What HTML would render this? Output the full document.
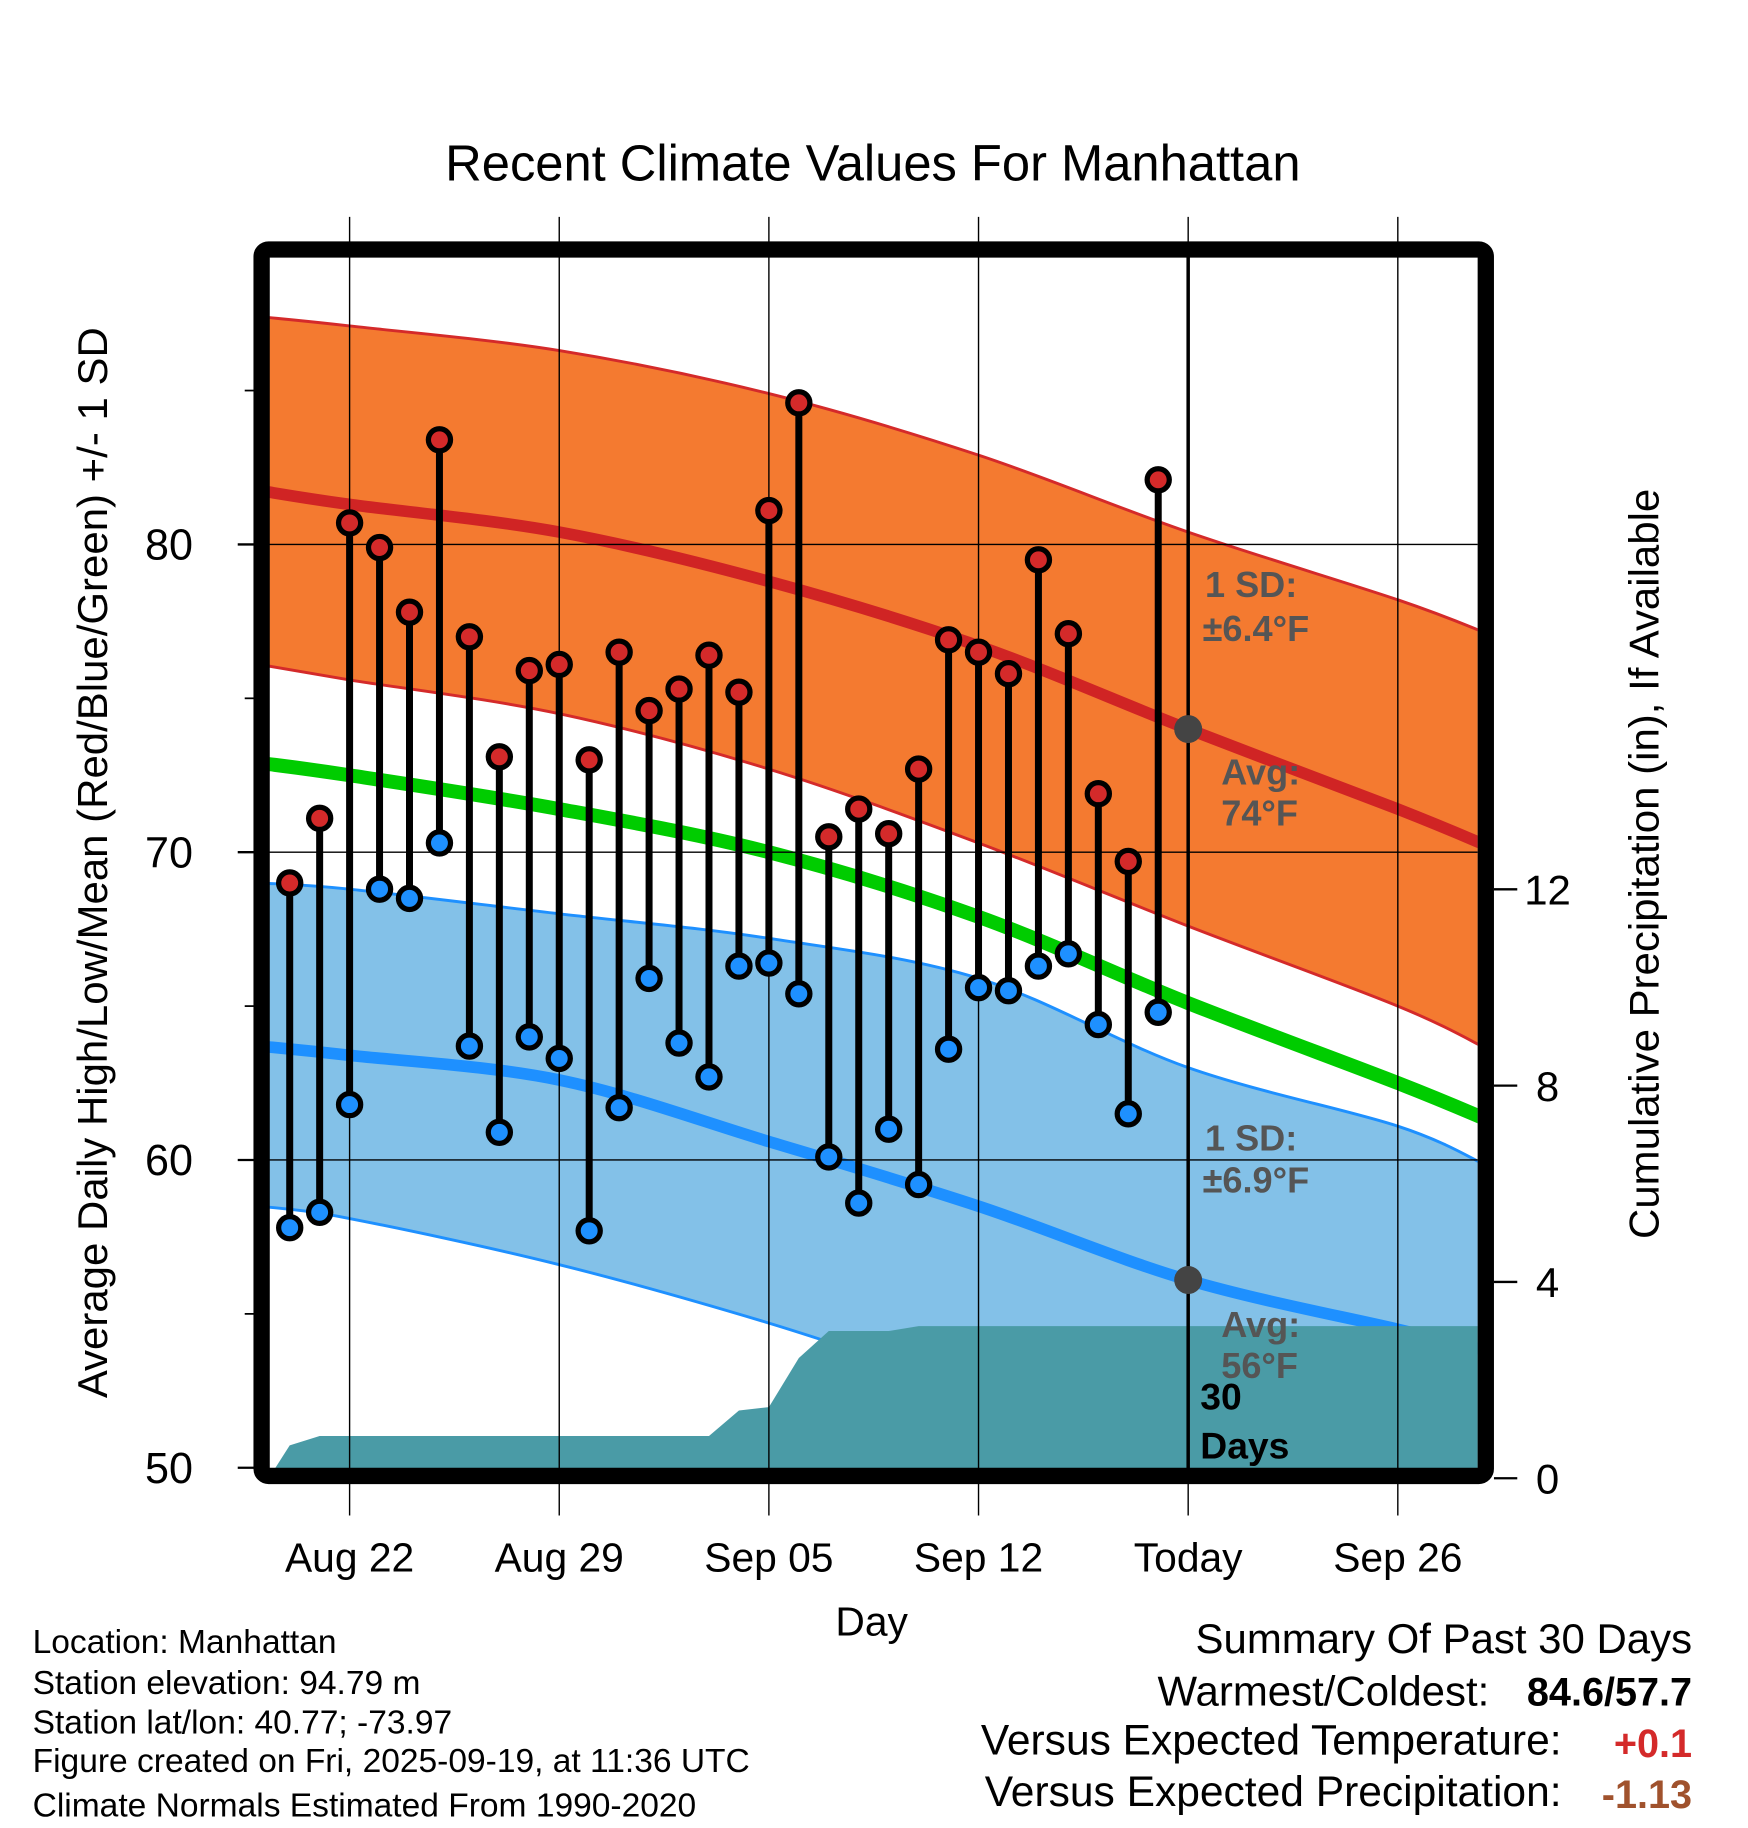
<!DOCTYPE html>
<html><head><meta charset="utf-8"><style>
html,body{margin:0;padding:0;background:#fff}
svg{display:block;font-family:"Liberation Sans",sans-serif}
</style></head><body>
<svg id="chart" width="1748" height="1828" viewBox="0 0 1500 1568" preserveAspectRatio="none" xmlns="http://www.w3.org/2000/svg">
<defs><clipPath id="clip"><rect x="231" y="220" width="1037" height="1040"/></clipPath></defs>
<g id="plot" clip-path="url(#clip)"></g>
<g id="over"></g>
</svg>
<script>
// ---- data ----
const normDays=[-3,0,7,14,21,28,35,38]; // days relative to Aug 22
const highNorm=[81.75,81.3,80.4,78.8,76.7,74.0,71.4,70.2];
const highUpper=[87.4,87.1,86.3,84.9,82.9,80.4,78.2,77.1];
const highLower=[76.1,75.6,74.5,72.7,70.3,67.6,65.0,63.6];
const meanNorm=[72.9,72.5,71.4,70.0,67.9,65.1,62.5,61.3];
const lowNorm=[63.7,63.4,62.6,60.6,58.5,56.1,54.5,53.8];
const lowUpper=[69.0,68.8,68.0,67.2,65.9,63.0,61.1,59.8];
const lowLower=[58.5,58.1,56.6,54.7,52.5,50.5,49.0,48.5];
const obsDays=[-2,-1,0,1,2,3,4,5,6,7,8,9,10,11,12,13,14,15,16,17,18,19,20,21,22,23,24,25,26,27];
const highs=[69.0,71.1,80.7,79.9,77.8,83.4,77.0,73.1,75.9,76.1,73.0,76.5,74.6,75.3,76.4,75.2,81.1,84.6,70.5,71.4,70.6,72.7,76.9,76.5,75.8,79.5,77.1,71.9,69.7,82.1];
const lows=[57.8,58.3,61.8,68.8,68.5,70.3,63.7,60.9,64.0,63.3,57.7,61.7,65.9,63.8,62.7,66.3,66.4,65.4,60.1,58.6,61.0,59.2,63.6,65.6,65.5,66.3,66.7,64.4,61.5,64.8];
const precipDays=[-2.7,-2,-1,0,1,2,3,4,5,6,7,8,9,10,11,12,13,14,15,16,17,18,19,20,21,22,23,24,25,26,27,38];
const precipCum=[0,0.67,0.86,0.86,0.86,0.86,0.86,0.86,0.86,0.86,0.86,0.86,0.86,0.86,0.86,0.86,1.38,1.45,2.45,3.0,3.0,3.0,3.1,3.1,3.1,3.1,3.1,3.1,3.1,3.1,3.1,3.1];
const xTickDays=[0,7,14,21,28,35];
const xTickLabels=["Aug 22","Aug 29","Sep 05","Sep 12","Today","Sep 26"];
const yTicks=[50,60,70,80];
const yMinor=[55,65,75,85];
const pTicks=[0,4,8,12];

// ---- scales ----
const X=d=>300+d*25.7;
const Y=t=>1259-(t-50)*26.4;
const YP=p=>1268-p*42.1;
const NS="http://www.w3.org/2000/svg";
function mk(parent,tag,attrs,text){const e=document.createElementNS(NS,tag);for(const k in attrs)e.setAttribute(k,attrs[k]);if(text!==undefined)e.textContent=text;parent.appendChild(e);return e;}
const plot=document.getElementById('plot'),over=document.getElementById('over');
function smooth(pts,move){
 let s=(move?'M':'L')+pts[0][0].toFixed(1)+','+pts[0][1].toFixed(1);
 for(let i=0;i<pts.length-1;i++){
  const p0=pts[Math.max(0,i-1)],p1=pts[i],p2=pts[i+1],p3=pts[Math.min(pts.length-1,i+2)];
  const c1=[p1[0]+(p2[0]-p0[0])/6,p1[1]+(p2[1]-p0[1])/6];
  const c2=[p2[0]-(p3[0]-p1[0])/6,p2[1]-(p3[1]-p1[1])/6];
  s+='C'+c1[0].toFixed(1)+','+c1[1].toFixed(1)+' '+c2[0].toFixed(1)+','+c2[1].toFixed(1)+' '+p2[0].toFixed(1)+','+p2[1].toFixed(1);
 }
 return s;
}
const pts=(ds,vs)=>ds.map((d,i)=>[X(d),Y(vs[i])]);
const line=(ds,vs)=>smooth(pts(ds,vs),true);
const band=(ds,up,lo)=>smooth(pts(ds,up),true)+smooth(pts(ds,lo).reverse(),false)+'Z';

let e;
e=mk(plot,'path',{d:band(normDays,highUpper,highLower),fill:'#f47a30',stroke:'none'});


e=mk(plot,'path',{d:band(normDays,lowUpper,lowLower),fill:'#83c1e8',stroke:'none'});


[[highUpper,'#d42a2a'],[highLower,'#d42a2a'],[lowUpper,'#1e90ff'],[lowLower,'#1e90ff']].forEach(([v,c])=>{
 const l=mk(plot,'path',{d:line(normDays,v),fill:'none',stroke:c,'stroke-width':2.5});
 
 
});
e=mk(plot,'path',{d:line(normDays,highNorm),fill:'none',stroke:'#d02424','stroke-width':10});


e=mk(plot,'path',{d:line(normDays,meanNorm),fill:'none',stroke:'#00cc00','stroke-width':12});


e=mk(plot,'path',{d:line(normDays,lowNorm),fill:'none',stroke:'#1e90ff','stroke-width':10});


// precip area
let pd='M'+X(precipDays[0])+','+YP(0);
precipDays.forEach((d,i)=>{pd+='L'+X(d).toFixed(1)+','+YP(precipCum[i]).toFixed(1);});
pd+='L'+X(precipDays[precipDays.length-1])+','+YP(0)+'Z';
e=mk(plot,'path',{d:pd,fill:'#4a9ba6',stroke:'none'});


// grid
xTickDays.forEach(d=>{const g=mk(over,'line',{x1:X(d),x2:X(d),y1:186,y2:1300,stroke:'#000','stroke-width':1.2});
 
 });
yTicks.slice(1).forEach(t=>{const g=mk(over,'line',{x1:231,x2:1268,y1:Y(t),y2:Y(t),stroke:'#000','stroke-width':1.2});
 
 });
e=mk(over,'line',{x1:X(28),x2:X(28),y1:220,y2:1260,stroke:'#000','stroke-width':3});


obsDays.forEach((d,i)=>{
 const s=mk(over,'line',{x1:X(d),x2:X(d),y1:Y(highs[i]),y2:Y(lows[i]),stroke:'#000','stroke-width':6});
 
 
});
obsDays.forEach((d,i)=>{
 const h=mk(over,'circle',{cx:X(d),cy:Y(highs[i]),r:9.5,fill:'#d42a2a',stroke:'#000','stroke-width':4.5});
 
 
 const l=mk(over,'circle',{cx:X(d),cy:Y(lows[i]),r:9.5,fill:'#1e90ff',stroke:'#000','stroke-width':4.5});
 
 
});
e=mk(over,'circle',{cx:X(28),cy:Y(highNorm[5]),r:12,fill:'#444'});


e=mk(over,'circle',{cx:X(28),cy:Y(lowNorm[5]),r:12,fill:'#444'});


e=mk(over,'rect',{x:224.5,y:214,width:1050.5,height:1052,rx:6,fill:'none',stroke:'#000','stroke-width':14});


yTicks.forEach(t=>{const k=mk(over,'line',{x1:204,x2:218,y1:Y(t),y2:Y(t),stroke:'#000','stroke-width':2});
 
 
 const lb=mk(over,'text',{x:145,y:Y(t)+13,'font-size':37,'text-anchor':'middle'},String(t));
 
 });
yMinor.forEach(t=>{const k=mk(over,'line',{x1:210,x2:218,y1:Y(t),y2:Y(t),stroke:'#000','stroke-width':1.5});
 
 });
pTicks.forEach(p=>{const k=mk(over,'line',{x1:1282,x2:1302,y1:YP(p),y2:YP(p),stroke:'#000','stroke-width':2});
 
 
 const lb=mk(over,'text',{x:1328,y:YP(p)+13,'font-size':36,'text-anchor':'middle'},String(p));
 
 });
xTickDays.forEach((d,i)=>{const lb=mk(over,'text',{x:X(d),y:1348,'font-size':35,'text-anchor':'middle'},xTickLabels[i]);
 
 });
</script>
<script>
(function(){
const NS="http://www.w3.org/2000/svg";const svg=document.getElementById('chart');
function T(x,y,s,txt,name,o){const e=document.createElementNS(NS,'text');e.setAttribute('x',x);e.setAttribute('y',y);e.setAttribute('font-size',s);
 for(const k in (o||{}))e.setAttribute(k,o[k]);e.textContent=txt;
 
 
 svg.appendChild(e);return e;}
T(749,155,43.5,'Recent Climate Values For Manhattan','chart-title',{'text-anchor':'middle'});
T(748,1403,35,'Day','x-axis-title',{'text-anchor':'middle'});
T(0,0,36,'Average Daily High/Low/Mean (Red/Blue/Green) +/- 1 SD','y-axis-title',{'text-anchor':'middle',transform:'translate(92,740) rotate(-90)'});
T(0,0,36,'Cumulative Precipitation (in), If Available','precip-axis-title',{'text-anchor':'middle',transform:'translate(1423,741) rotate(-90)'});
const g={'font-weight':'bold',fill:'#555'};
T(1034,512,31,'1 SD:','high-sd-label',g);T(1032,550,31,'±6.4°F','high-sd-value',g);
T(1048,673,31,'Avg:','high-avg-label',g);T(1048,708,31,'74°F','high-avg-value',g);
T(1034,987,31,'1 SD:','low-sd-label',g);T(1032,1023,31,'±6.9°F','low-sd-value',g);
T(1048,1147,31,'Avg:','low-avg-label',g);T(1048,1182,31,'56°F','low-avg-value',g);
T(1030,1209,32,'30','days-label',{'font-weight':'bold'});T(1030,1251,32,'Days','days-label-2',{'font-weight':'bold'});
const L=['Location: Manhattan','Station elevation: 94.79 m','Station lat/lon: 40.77; -73.97','Figure created on Fri, 2025-09-19, at 11:36 UTC','Climate Normals Estimated From 1990-2020'];
const by=[1418,1453,1487,1520,1558];
L.forEach((s,i)=>T(28,by[i],28.8,s,'station-info-line'));
T(1452,1418,36,'Summary Of Past 30 Days','summary-title',{'text-anchor':'end'});
T(1278,1463,36,'Warmest/Coldest:','warmest-coldest-label',{'text-anchor':'end'});
T(1452,1463,34,'84.6/57.7','warmest-coldest-value',{'text-anchor':'end','font-weight':'bold'});
T(1340,1505,36.5,'Versus Expected Temperature:','temp-anomaly-label',{'text-anchor':'end'});
T(1452,1507,34,'+0.1','temp-anomaly-value',{'text-anchor':'end','font-weight':'bold',fill:'#d42a2a'});
T(1340,1549,36.5,'Versus Expected Precipitation:','precip-anomaly-label',{'text-anchor':'end'});
T(1452,1551,34,'-1.13','precip-anomaly-value',{'text-anchor':'end','font-weight':'bold',fill:'#a0522d'});
})();
</script>
</body></html>
